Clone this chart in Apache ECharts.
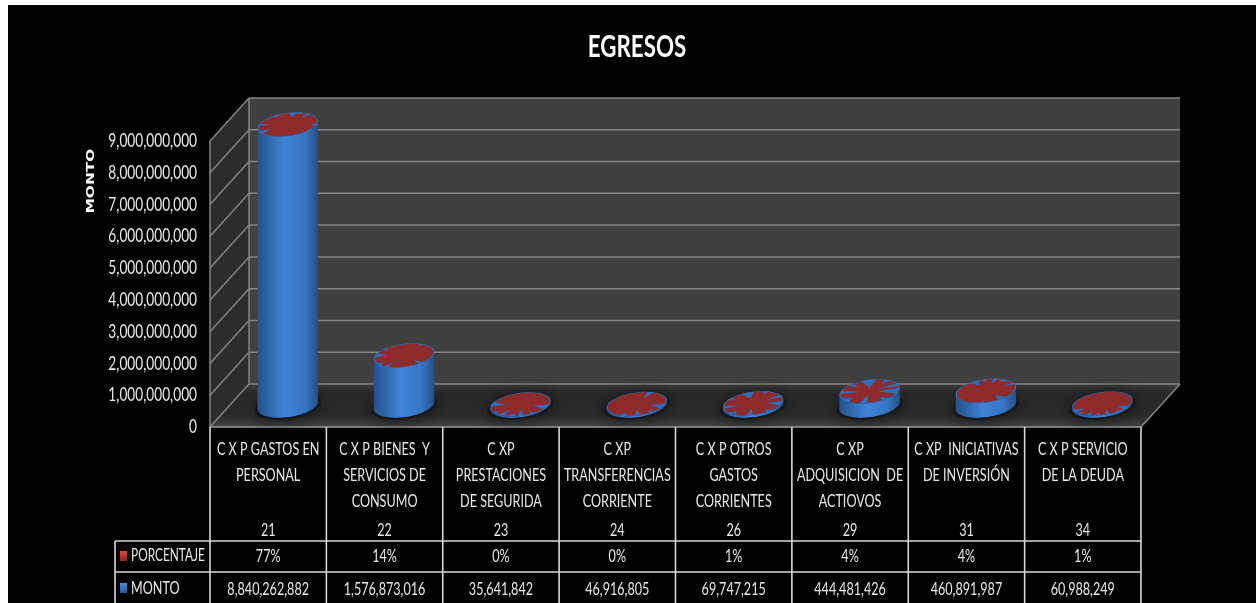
<!DOCTYPE html>
<html><head><meta charset="utf-8">
<style>
html,body{margin:0;padding:0;background:#fff;width:1256px;height:603px;overflow:hidden}
#sheet{position:absolute;left:8px;top:5px;right:0;bottom:0;background:#000}
#chart{position:absolute;left:0;top:0;width:1256px;height:603px}
</style>
<script src="https://cdn.jsdelivr.net/npm/echarts@6/dist/echarts.min.js"></script>
</head><body><div id="sheet"></div><div id="chart"></div>
<script>
const categories = ['C X P GASTOS EN\nPERSONAL\n','C X P BIENES  Y\nSERVICIOS DE\nCONSUMO','C XP\nPRESTACIONES\nDE SEGURIDA','C XP\nTRANSFERENCIAS\nCORRIENTE','C X P OTROS\nGASTOS\nCORRIENTES','C XP\nADQUISICION  DE\nACTIOVOS','C XP  INICIATIVAS\nDE INVERSIÓN\n','C X P SERVICIO\nDE LA DEUDA\n'];
const codes = ['21','22','23','24','26','29','31','34'];
const monto = [8840262882,1576873016,35641842,46916805,69747215,444481426,460891987,60988249];
const porcentaje = [77,14,0,0,1,4,4,1];
const montoLabels = ['8,840,262,882','1,576,873,016','35,641,842','46,916,805','69,747,215','444,481,426','460,891,987','60,988,249'];
const blueShare = [0.22,0.25,0.4,0.4,0.45,0.7,0.25,0.2];
const flecks = [
  [285,300,318,248,200,20,160],
  [200,232,130,152,60,310],
  [32,70,92,112,135,155,200],
  [30,62,92,122,300],
  [20,60,100,140,180,222,262,300,342],
  [18,62,105,150,195,235,272,310,345],
  [250,270,292,312,342,100,60],
  [40,62,82,102,122,142,162]
];

const FONT = 'Lato,"Noto Sans",sans-serif';
const DX = 39, DY = 43, RX = 30.5, RY = 11.5, TILT = -8 * Math.PI / 180;
const TEXT = '#e8e8e8';
const SQUEEZE = 0.72;

function ell(cx, cy, t, k) {
  const a = RX * (k || 1) * Math.cos(t), b = RY * (k || 1) * Math.sin(t);
  return [cx + a * Math.cos(TILT) - b * Math.sin(TILT), cy + a * Math.sin(TILT) + b * Math.cos(TILT)];
}
function ring(cx, cy, k) {
  const p = [];
  for (let i = 0; i < 60; i++) p.push(ell(cx, cy, i / 60 * 2 * Math.PI, k));
  return p;
}
function wedge(cx, cy, deg, width, inner) {
  const t = deg * Math.PI / 180, w = width * Math.PI / 180;
  return [ell(cx, cy, t, inner), ell(cx, cy, t - w, 1), ell(cx, cy, t, 1), ell(cx, cy, t + w, 1)];
}
const LINE = { stroke: '#858585', lineWidth: 1.5 };
function line(x1, y1, x2, y2, st) {
  return { type: 'line', shape: { x1, y1, x2, y2 }, style: Object.assign({}, LINE, st || {}) };
}
function renderWalls(params, api) {
  const c = params.coordSys, L = c.x, R = c.x + c.width, B = c.y + c.height, T = c.y;
  const kids = [
    { type: 'polygon', shape: { points: [[L + DX, T - DY], [R + DX, T - DY], [R + DX, B - DY], [L + DX, B - DY]] }, style: { fill: '#404040' } },
    { type: 'polygon', shape: { points: [[L, T], [L + DX, T - DY], [L + DX, B - DY], [L, B]] }, style: { fill: '#2c2c2c' } },
    { type: 'polygon', shape: { points: [[L, B], [L + DX, B - DY], [R + DX, B - DY], [R, B]] },
      style: { fill: { type: 'linear', x: 0, y: 0, x2: 0, y2: 1, colorStops: [{ offset: 0, color: '#3c3c3c' }, { offset: 0.22, color: '#272727' }, { offset: 0.72, color: '#292929' }, { offset: 1, color: '#434343' }] } } }
  ];
  for (let v = 0; v <= 9; v++) {
    const y = api.coord([0, v * 1e9])[1];
    if (v > 0) kids.push(line(L, y, L + DX, y - DY));
    kids.push(line(L + DX, y - DY, R + DX, y - DY));
  }
  kids.push(line(L + DX, T - DY, L + DX, B - DY));
  kids.push(line(L, T, L, B));
  kids.push(line(L, B, L + DX, B - DY));
  kids.push(line(R, B, R + DX, B - DY));
  kids.push(line(L, B, R, B, { stroke: '#9a9a9a' }));
  const cw = c.width / categories.length, LBL = 115, Y1 = 541, Y2 = 572, Y3 = 603;
  const W = { stroke: '#d8d8d8', lineWidth: 1.6 };
  for (let i = 0; i <= categories.length; i++) {
    kids.push(line(L + i * cw, B, L + i * cw, Y3, W));
  }
  kids.push(line(LBL, Y1, R, Y1, W), line(LBL, Y2, R, Y2, W), line(LBL, Y1, LBL, Y3, W));
  kids.push({ type: 'rect', shape: { x: 120, y: 551, width: 7, height: 10 }, style: { fill: { type: 'linear', x: 0, y: 0, x2: 0, y2: 1, colorStops: [{ offset: 0, color: '#e04a46' }, { offset: 1, color: '#8a2420' }] } } });
  kids.push({ type: 'rect', shape: { x: 120, y: 583, width: 7, height: 10 }, style: { fill: { type: 'linear', x: 0, y: 0, x2: 0, y2: 1, colorStops: [{ offset: 0, color: '#4a90e0' }, { offset: 1, color: '#245a9a' }] } } });
  return { type: 'group', children: kids };
}
function renderCyl(params, api) {
  const i = api.value(0), v = api.value(1);
  const base = api.coord([i, 0]), top = api.coord([i, v]);
  const cx = base[0] + DX / 2, by = base[1] - DY / 2, ty = top[1] - DY / 2;
  const body = [];
  for (let k = 0; k <= 30; k++) body.push(ell(cx, by, k / 30 * Math.PI));
  for (let k = 0; k <= 30; k++) body.push(ell(cx, ty, Math.PI - k / 30 * Math.PI));
  const kids = [
    { type: 'polygon', shape: { points: ring(cx, by + 1, 1.1) }, style: { fill: '#181818', shadowBlur: 16, shadowColor: '#161616' } },
    { type: 'polygon', shape: { points: body }, style: { fill: { type: 'linear', x: 0, y: 0, x2: 1, y2: 0, colorStops: [{ offset: 0, color: '#25518a' }, { offset: 0.45, color: '#3f84d8' }, { offset: 0.8, color: '#3574c0' }, { offset: 1, color: '#244f86' }] } } },
    { type: 'polygon', shape: { points: ring(cx, ty) }, style: { fill: '#2f6fbe' } },
    { type: 'polygon', shape: { points: ring(cx, ty, 0.96) }, style: { fill: '#8e2a2a' } }
  ];
  const s = blueShare[i];
  flecks[i].forEach((deg, k) => {
    kids.push({ type: 'polygon', shape: { points: wedge(cx, ty, deg, (k % 3 === 0 ? 11 : 6) * (0.6 + s), 1 - (k % 2 ? 0.3 : 0.65) * (0.4 + s)) }, style: { fill: '#2f6fbe' } });
  });
  return { type: 'group', children: kids };
}
const hiddenLine = { show: false };
function rowAxis(offset, data, lineHeight) {
  return { type: 'category', position: 'bottom', data, offset, axisLine: hiddenLine, axisTick: hiddenLine,
    axisLabel: { color: TEXT, fontFamily: FONT, fontSize: 17.5, interval: 0, hideOverlap: false, margin: 0, verticalAlign: 'top', lineHeight: lineHeight || 30 } };
}
const chart = echarts.init(document.getElementById('chart'), null, { renderer: 'canvas' });
chart.setOption({
  animation: false,
  backgroundColor: 'transparent',
  title: { text: 'EGRESOS', left: 632, top: 26, textAlign: 'center', textStyle: { color: '#fff', fontFamily: FONT, fontWeight: 'bold', fontSize: 31 } },
  grid: { left: 210, top: 141, width: 931, height: 286, outerBoundsMode: 'none' },
  xAxis: [
    rowAxis(9, categories, 26),
    rowAxis(88, codes),
    rowAxis(114, porcentaje.map(p => p + '%')),
    rowAxis(147, montoLabels)
  ],
  yAxis: {
    type: 'value', min: 0, max: 9000000000, interval: 1000000000,
    axisLine: hiddenLine, axisTick: hiddenLine, splitLine: hiddenLine,
    axisLabel: { color: TEXT, fontFamily: FONT, fontSize: 19, margin: 13, formatter: v => v.toLocaleString('en-US') }
  },
  graphic: [
    { type: 'text', x: 91, y: 181, rotation: Math.PI / 2, style: { text: 'MONTO', fill: '#fff', align: 'center', verticalAlign: 'middle', font: 'bold 11px "DejaVu Sans",sans-serif' } },
    { type: 'text', left: 131, top: 547, style: { text: 'PORCENTAJE', fill: TEXT, font: '16.5px ' + FONT } },
    { type: 'text', left: 131, top: 579, style: { text: 'MONTO', fill: TEXT, font: '17.5px ' + FONT } }
  ],
  series: [
    { type: 'custom', name: 'Ejes', coordinateSystem: 'cartesian2d', z: 1, silent: true, clip: false, data: [[0, 0]], renderItem: renderWalls },
    { type: 'custom', name: 'MONTO', coordinateSystem: 'cartesian2d', z: 2, clip: false, encode: { x: 0, y: 1 }, data: monto.map((m, i) => [i, m, porcentaje[i]]), renderItem: renderCyl }
  ]
});
// The reference's labels are condensed: squeeze each text about its anchor.
const zr = chart.getZr();
const seen = new Set();
zr.storage.getDisplayList(true, true).forEach(el => {
  const t = el.parent;
  if (el.type !== 'tspan' || !t || seen.has(t)) return;
  seen.add(t);
  const sideways = Math.abs(Math.abs(t.rotation || 0) - Math.PI / 2) < 0.01 && t.style.text === 'MONTO';
  t.scaleX = sideways ? 1.4 : SQUEEZE;
  t.markRedraw();
});
zr.refreshImmediately();
</script></body></html>
